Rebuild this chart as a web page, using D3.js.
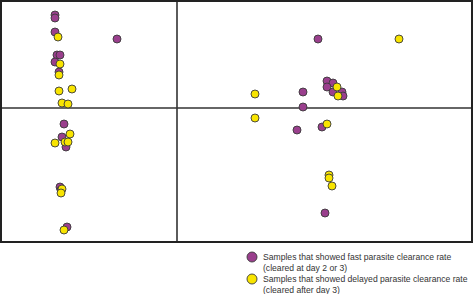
<!DOCTYPE html>
<html>
<head>
<meta charset="utf-8">
<script src="https://cdn.jsdelivr.net/npm/d3@7"></script>
<style>
  body { margin: 0; background: #fff; }
  svg { display: block; }
</style>
</head>
<body>
<div class="canvas"></div>
<script>
// sample coordinates (arbitrary component units)
const fastX = [-2.44, -2.44, -2.44, -1.20, -2.40, -2.34, -2.44, -2.36, -2.26, -2.30, -2.22, -2.34, -2.32, -2.20,
  2.82, 2.52, 3.00, 3.12, 3.00, 3.12, 3.30, 3.32, 2.52, 2.40, 2.90, 2.96];
const fastY = [1.86, 1.80, 1.52, 1.38, 1.06, 1.06, 0.92, 0.72, -0.32, -0.58, -0.78, -1.58, -1.64, -2.38,
  1.38, 0.32, 0.54, 0.50, 0.42, 0.32, 0.32, 0.24, 0.02, -0.44, -0.38, -2.10];

const delayedX = [-2.38, -2.34, -2.36, -2.36, -2.10, -2.30, -2.18, -2.14, -2.44, -2.24, -2.18, -2.30, -2.32, -2.26,
  4.44, 1.56, 3.20, 3.22, 1.56, 3.00, 3.04, 3.04, 3.10];
const delayedY = [1.42, 0.88, 0.66, 0.34, 0.38, 0.10, 0.08, -0.52, -0.70, -0.68, -0.68, -1.62, -1.70, -2.44,
  1.38, 0.28, 0.42, 0.24, -0.20, -0.32, -1.34, -1.40, -1.56];

const legendLabels = [
  ['Samples that showed fast parasite clearance rate', '(cleared at day 2 or 3)'],
  ['Samples that showed delayed parasite clearance rate', '(cleared after day 3)']
];

const purple = '#9a3f8d';
const yellow = '#f8e400';

const width = 473, height = 294;
const svg = d3.select('.canvas').append('svg')
  .attr('width', width)
  .attr('height', height);

// plot frame
const box = {left: 1, top: 1, right: 472, bottom: 242};

const x = d3.scaleLinear().domain([-3.5, 5.9]).range([box.left + 1, box.right]);
const y = d3.scaleLinear().domain([-2.68, 2.14]).range([box.bottom, box.top]);

// zero lines through the middle
svg.append('line')
  .attr('x1', x(0)).attr('x2', x(0))
  .attr('y1', box.top).attr('y2', box.bottom)
  .attr('stroke', '#333').attr('stroke-width', 1.6);
svg.append('line')
  .attr('x1', box.left).attr('x2', box.right)
  .attr('y1', y(0)).attr('y2', y(0))
  .attr('stroke', '#333').attr('stroke-width', 1.6);

svg.append('rect')
  .attr('x', box.left).attr('y', box.top)
  .attr('width', box.right - box.left).attr('height', box.bottom - box.top)
  .attr('fill', 'none').attr('stroke', '#222').attr('stroke-width', 2);

const fast = fastX.map((v, i) => ({x: v, y: fastY[i]}));
const delayed = delayedX.map((v, i) => ({x: v, y: delayedY[i]}));

const drawPoints = (data, color) => {
  svg.append('g').selectAll('circle')
    .data(data)
    .enter().append('circle')
      .attr('cx', d => x(d.x))
      .attr('cy', d => y(d.y))
      .attr('r', 4)
      .attr('fill', color)
      .attr('stroke', '#3a3a3a')
      .attr('stroke-width', 0.9);
};
drawPoints(fast, purple);
drawPoints(delayed, yellow);

// legend
const legend = svg.append('g')
  .attr('font-family', 'Liberation Sans, Arial, sans-serif')
  .attr('font-size', 8.6)
  .attr('fill', '#333');

[purple, yellow].forEach((c, i) => {
  const g = legend.append('g').attr('transform', `translate(252, ${257 + i * 22})`);
  g.append('circle').attr('r', 5).attr('fill', c).attr('stroke', '#3a3a3a').attr('stroke-width', 0.9);
  legendLabels[i].forEach((t, j) => {
    g.append('text').attr('x', 11).attr('y', 3 + j * 11).text(t);
  });
});
</script>
</body>
</html>
